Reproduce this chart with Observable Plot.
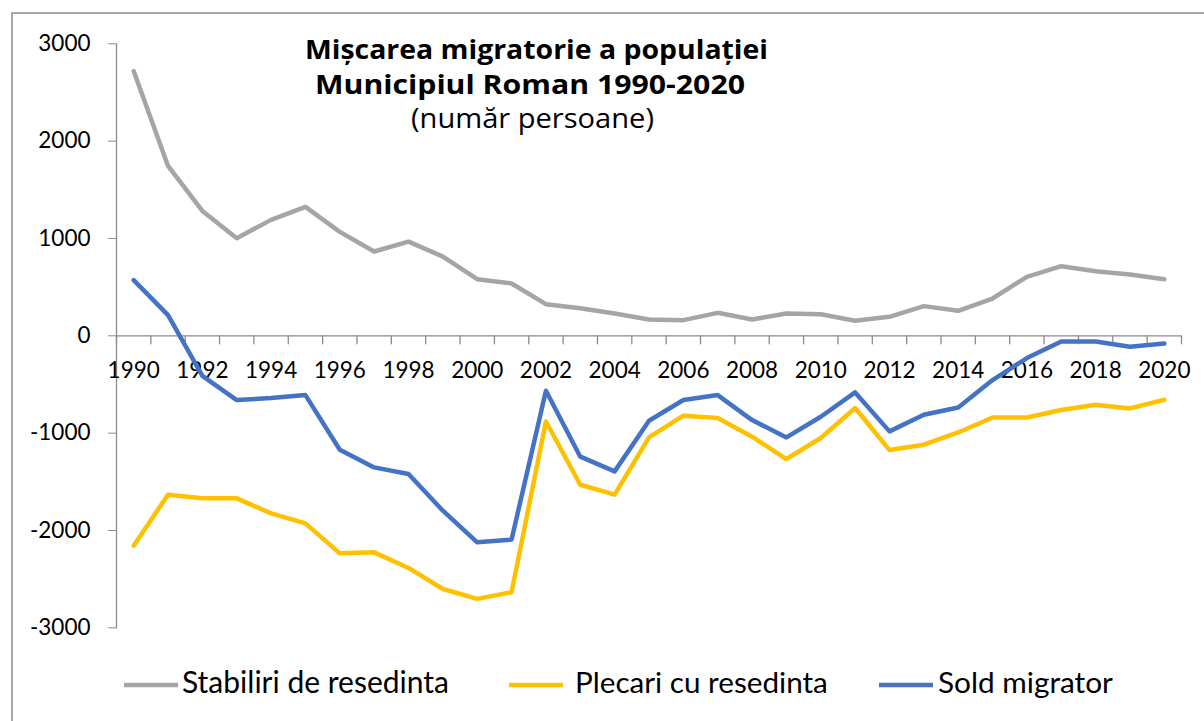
<!DOCTYPE html>
<html>
<head>
<meta charset="utf-8">
<script src="https://cdn.jsdelivr.net/npm/d3@7"></script>
<script src="https://cdn.jsdelivr.net/npm/@observablehq/plot@0.6"></script>
<style>
  html, body { margin: 0; padding: 0; background: #fff; }
  #wrap { position: relative; width: 1204px; height: 721px; overflow: hidden; background: #fff; }
  #border { position: absolute; left: 11px; top: 12px; width: 1400px; height: 900px; border: 2px solid #a6a6a6; box-sizing: border-box; }
  #chart { position: absolute; left: 0; top: 0; }
  #overlay { position: absolute; left: 0; top: 0; }
</style>
</head>
<body>
<div id="wrap">
  <div id="border"></div>
  <div id="chart"></div>
  <svg id="overlay" width="1204" height="721"></svg>
</div>
<script>
// ---- data ----
const years = [1990,1991,1992,1993,1994,1995,1996,1997,1998,1999,2000,2001,2002,2003,2004,2005,2006,2007,2008,2009,2010,2011,2012,2013,2014,2015,2016,2017,2018,2019,2020];
const stabiliri = [2720,1745,1283,1003,1191,1324,1068,866,968,814,582,537,325,284,229,168,161,236,168,229,222,154,195,305,257,383,606,715,664,630,582];
const plecari = [-2156,-1632,-1670,-1670,-1824,-1927,-2235,-2225,-2385,-2601,-2703,-2635,-880,-1530,-1632,-1044,-821,-845,-1037,-1266,-1050,-742,-1174,-1119,-993,-839,-839,-763,-708,-746,-657];
const sold = [572,212,-411,-660,-640,-609,-1170,-1352,-1420,-1797,-2122,-2094,-565,-1242,-1393,-873,-660,-609,-866,-1044,-832,-582,-982,-811,-736,-455,-229,-58,-58,-113,-79];
const seriesNames = ["Stabiliri de resedinta", "Plecari cu resedinta", "Sold migrator"];
const seriesColors = ["#a5a5a5", "#ffc000", "#4472c4"];
const yTicks = [-3000,-2000,-1000,0,1000,2000,3000];
const xLabelYears = [1990,1992,1994,1996,1998,2000,2002,2004,2006,2008,2010,2012,2014,2016,2018,2020];
const titleLines = ["Mișcarea migratorie a populației", "Municipiul Roman 1990-2020", "(număr persoane)"];

// ---- table ----
const seriesValues = [stabiliri, plecari, sold];
const rows = [];
seriesNames.forEach((name, i) => {
  years.forEach((yr, j) => rows.push({series: name, year: yr, value: seriesValues[i][j]}));
});
const bounds = years.map(y => y - 0.5).concat([years[years.length - 1] + 0.5]);

const axisGray = "#8c8c8c";
const tickShape = { draw(ctx, l) { ctx.moveTo(0, 0); ctx.lineTo(0, -l); } };

const chart = Plot.plot({
  width: 1204,
  height: 721,
  marginLeft: 116,
  marginRight: 23,
  marginTop: 43.3,
  marginBottom: 93.7,
  style: { fontFamily: "Lato, sans-serif", fontSize: "22.5px", background: "transparent", color: "#000" },
  x: { type: "linear", domain: [years[0] - 0.5, years[years.length - 1] + 0.5], axis: null },
  y: { domain: [-3000, 3000], axis: null },
  color: { domain: seriesNames, range: seriesColors },
  marks: [
    Plot.frame({ anchor: "left", stroke: axisGray, strokeWidth: 1.3 }),
    Plot.axisY(yTicks, { tickSize: 8, tickPadding: 18, stroke: axisGray, fill: "#000", tickFormat: d => String(d), fontSize: 22.5, label: null }),
    Plot.ruleY([0], { stroke: axisGray, strokeWidth: 1.3 }),
    Plot.vector(bounds, { x: d => d, y: () => 0, length: 8, rotate: 180, anchor: "start", shape: tickShape, stroke: axisGray, strokeWidth: 1.3 }),
    Plot.text(xLabelYears, { x: d => d, y: () => 0, dy: 35, text: d => String(d), fill: "#000", fontSize: 22.5 }),
    Plot.line(rows, { x: "year", y: "value", z: "series", stroke: "series", strokeWidth: 4.5, strokeLinejoin: "round", strokeLinecap: "round" })
  ]
});
document.getElementById("chart").appendChild(chart);

// ---- title and legend overlay ----
const ov = d3.select("#overlay");
function fitText(sel, target) {
  const node = sel.node();
  const base = parseFloat(sel.attr("font-size"));
  const w = node.getComputedTextLength();
  if (w > 0) sel.attr("font-size", (base * target / w).toFixed(2));
}
function squeezeText(sel, target) {
  sel.attr("textLength", target).attr("lengthAdjust", "spacingAndGlyphs");
}
const titleFont = "'Open Sans', 'DejaVu Sans', sans-serif";
const tSpecs = [
  { text: titleLines[0], x: 536.5, y: 59, w: 463, bold: true },
  { text: titleLines[1], x: 530, y: 94, w: 430, bold: true },
  { text: titleLines[2], x: 532.5, y: 128, w: 243, bold: false }
];
tSpecs.forEach(s => {
  const t = ov.append("text")
    .attr("x", s.x).attr("y", s.y)
    .attr("text-anchor", "middle")
    .attr("font-family", titleFont)
    .attr("font-weight", s.bold ? "bold" : "normal")
    .attr("font-size", 27.5)
    .attr("fill", "#000")
    .text(s.text);
  squeezeText(t, s.w);
});

const legendSpecs = [
  { x1: 124, x2: 178, tx: 182, w: 267 },
  { x1: 509, x2: 563, tx: 575, w: 253 },
  { x1: 879, x2: 933, tx: 938, w: 175 }
];
seriesNames.forEach((name, i) => {
  const s = legendSpecs[i];
  ov.append("line").attr("x1", s.x1).attr("x2", s.x2).attr("y1", 685).attr("y2", 685)
    .attr("stroke", seriesColors[i]).attr("stroke-width", 4.5);
  const t = ov.append("text").attr("x", s.tx).attr("y", 693)
    .attr("font-family", "Lato, sans-serif").attr("font-size", 24).attr("fill", "#000")
    .text(name);
  fitText(t, s.w);
});
</script>
</body>
</html>
